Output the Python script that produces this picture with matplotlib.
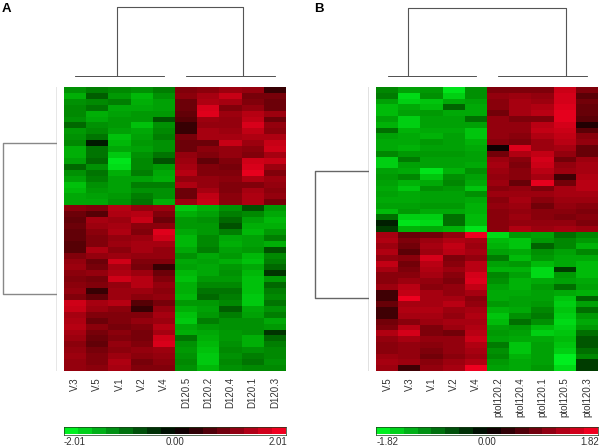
import numpy as np
import matplotlib
matplotlib.use('Agg')
import matplotlib.pyplot as plt
from matplotlib.colors import LinearSegmentedColormap

plt.rcParams['font.family'] = ['Liberation Sans', 'DejaVu Sans']

# Panel A, one list per sample, rows top to bottom
a_labels = ['V.3', 'V.5', 'V.1', 'V.2', 'V.4', 'D120.5', 'D120.2', 'D120.4', 'D120.1', 'D120.3']
a_v3 = [-0.9,-1.3,-0.9,-0.8,-0.8,-0.9,-0.5,-1.0,-0.9,-0.8,-1.3,-1.3,-1.1,-0.5,-0.9,-1.1,-1.5,-1.4,-1.2,-1.2,
        0.8,0.5,0.4,0.5,0.4,0.4,0.3,0.3,0.7,0.9,1.0,0.8,0.7,0.8,0.9,0.7,1.6,1.5,1.1,1.2,1.3,1.1,1.0,0.8,0.9,1.0,0.9,0.9]
a_v5 = [-0.7,-0.4,-0.8,-0.6,-1.3,-1.2,-0.9,-0.8,-0.6,-0.1,-0.6,-0.6,-0.5,-0.9,-0.6,-0.7,-0.9,-1.0,-1.1,-1.2,
        0.7,0.3,1.1,1.0,0.8,0.7,0.7,1.2,0.9,0.5,0.6,0.9,0.6,0.7,0.2,0.4,1.1,1.0,0.7,0.5,0.8,0.6,0.5,0.4,0.6,0.7,0.7,0.8]
a_v1 = [-0.8,-1.0,-0.7,-1.2,-1.1,-1.0,-1.0,-1.1,-1.5,-1.4,-1.2,-1.6,-1.9,-1.8,-1.3,-1.1,-1.1,-1.1,-1.0,-0.9,
        1.3,1.2,1.0,1.1,1.2,0.9,1.0,0.8,1.0,1.6,1.1,1.2,1.6,0.9,1.0,1.0,1.3,0.8,0.7,0.7,0.6,0.8,0.7,0.9,0.8,1.0,1.2,1.1]
a_v2 = [-0.9,-1.4,-1.3,-1.2,-1.0,-1.0,-1.5,-1.2,-1.1,-1.0,-1.1,-0.9,-0.8,-0.8,-0.7,-1.1,-0.7,-0.9,-0.7,-0.6,
        0.9,1.3,1.5,0.8,0.7,1.0,1.1,1.1,0.9,0.7,0.6,1.0,1.3,1.3,1.0,0.8,0.3,0.2,0.7,0.9,0.7,0.6,0.6,0.7,0.9,0.8,0.6,0.7]
a_v4 = [-0.7,-0.9,-1.1,-1.1,-1.0,-0.3,-0.9,-0.8,-0.7,-0.9,-0.9,-0.6,-0.3,-1.0,-1.2,-1.3,-0.7,-0.9,-0.9,-1.3,
        1.0,0.7,0.5,0.8,1.8,1.6,1.1,0.9,0.9,0.7,0.2,0.5,0.7,0.9,0.8,0.9,0.6,0.9,1.1,1.0,1.3,1.1,1.6,1.7,1.0,0.9,0.8,0.7]
a_d5 = [0.7,0.8,0.5,0.5,0.4,0.3,0.2,0.2,0.6,0.5,0.5,0.9,1.0,1.1,1.3,0.9,1.2,0.5,0.5,1.0,
        -1.6,-1.3,-1.0,-1.0,-1.2,-1.4,-1.4,-1.2,-0.9,-1.2,-1.1,-1.4,-1.5,-1.3,-1.3,-1.4,-1.0,-1.3,-1.5,-1.6,-1.2,-1.3,-0.6,-0.9,-1.0,-0.9,-0.8,-0.9]
a_d2 = [0.8,1.1,1.2,1.7,1.8,1.0,0.9,1.1,1.1,0.5,0.8,0.7,0.4,0.7,0.7,0.9,0.9,1.1,1.4,1.5,
        -1.3,-1.1,-0.9,-1.0,-1.0,-0.8,-0.8,-0.7,-1.2,-1.1,-1.2,-1.2,-1.0,-0.8,-0.6,-0.5,-1.0,-1.1,-1.0,-0.7,-1.0,-1.2,-1.3,-1.4,-1.5,-1.6,-1.6,-1.4]
a_d4 = [1.0,1.5,1.1,0.7,1.0,0.9,0.9,1.0,1.1,1.5,0.9,0.9,0.7,0.6,0.7,0.8,0.7,0.7,0.8,0.8,
        -0.9,-0.7,-0.5,-0.3,-0.7,-1.2,-1.3,-1.1,-1.0,-1.3,-1.0,-0.9,-1.0,-0.8,-0.6,-0.7,-0.8,-0.4,-0.7,-0.9,-0.9,-1.0,-1.0,-0.9,-0.8,-0.9,-0.8,-0.9]
a_d1 = [0.9,0.6,0.7,0.9,1.3,1.4,1.7,1.4,1.2,1.0,0.8,0.7,1.6,1.7,1.9,1.2,0.7,1.1,1.2,1.2,
        -0.3,-0.8,-1.1,-1.3,-1.4,-1.1,-1.1,-1.0,-1.4,-1.5,-1.2,-1.4,-1.5,-1.5,-1.5,-1.6,-1.6,-1.2,-1.1,-0.9,-0.9,-0.9,-1.3,-1.3,-0.9,-0.7,-0.6,-0.8]
a_d3 = [0.2,0.6,0.5,0.5,1.0,0.5,0.9,0.8,1.2,1.5,1.6,1.1,1.5,1.0,0.7,1.0,0.9,0.8,0.9,0.6,
        -1.0,-1.2,-1.4,-1.3,-1.0,-0.7,-1.3,-0.3,-0.8,-0.7,-0.5,-0.2,-1.0,-0.5,-0.7,-0.8,-0.6,-0.9,-0.7,-1.2,-1.0,-0.2,-0.5,-0.7,-0.8,-0.8,-0.9,-0.8]

# Panel B
b_labels = ['V.5', 'V.3', 'V.1', 'V.2', 'V.4', 'ptol120.2', 'ptol120.4', 'ptol120.1', 'ptol120.5', 'ptol120.3']
b_v5 = [-0.7,-0.6,-1.0,-1.3,-1.3,-1.0,-1.2,-0.5,-1.0,-1.1,-1.1,-0.7,-1.5,-1.5,-1.0,-0.9,-1.0,-1.1,-1.0,-1.1,-1.0,-1.3,-0.5,-0.1,-0.2,
        1.0,1.1,0.9,1.1,0.8,1.3,1.0,0.7,0.7,0.9,0.2,0.2,0.4,0.2,0.2,0.5,0.6,1.1,0.8,0.7,0.7,0.9,1.0,0.9]
b_v3 = [-1.0,-1.6,-1.5,-1.1,-1.0,-1.5,-1.5,-1.2,-1.1,-1.1,-1.2,-0.9,-0.6,-1.0,-1.1,-0.7,-1.2,-1.4,-1.1,-1.1,-1.0,-0.9,-1.5,-1.7,-1.2,
        0.4,0.6,0.5,0.3,0.7,0.5,0.6,0.7,0.9,1.2,1.3,1.8,1.0,1.1,1.0,0.7,1.2,1.5,1.0,0.8,0.8,0.8,0.9,0.2]
b_v1 = [-0.9,-0.8,-1.4,-1.3,-0.9,-1.0,-1.0,-1.1,-1.2,-0.9,-1.0,-0.9,-1.0,-1.0,-1.7,-1.4,-1.1,-0.8,-1.0,-1.0,-0.9,-1.1,-1.5,-1.6,-1.1,
        0.5,0.9,1.0,0.9,1.5,1.2,1.1,1.0,0.8,0.7,1.0,1.0,1.0,1.1,1.0,0.9,0.6,0.6,0.8,0.7,0.6,0.5,0.7,0.8]
b_v2 = [-1.7,-1.5,-1.1,-0.4,-1.1,-1.0,-1.0,-1.1,-1.0,-1.0,-1.0,-0.9,-1.0,-1.0,-1.2,-0.8,-0.7,-0.9,-1.0,-1.0,-0.9,-1.1,-0.5,-0.5,-1.2,
        0.8,1.1,1.3,1.2,0.6,0.7,0.9,0.7,0.6,0.8,0.8,1.0,1.2,0.9,0.8,1.0,0.9,0.5,0.8,0.8,0.8,0.7,0.9,1.0]
b_v4 = [-0.8,-0.8,-1.0,-1.1,-1.1,-0.5,-1.0,-1.4,-1.4,-1.2,-1.1,-1.0,-1.0,-1.1,-0.8,-1.0,-1.1,-1.4,-0.8,-1.1,-1.2,-1.2,-1.3,-1.3,-1.7,
        1.8,1.0,0.9,1.0,0.8,1.2,1.2,1.5,1.6,1.3,1.0,0.7,0.8,1.0,1.1,1.0,1.1,1.2,1.4,1.1,1.0,0.9,1.1,1.8]
b_p2 = [0.6,0.8,0.7,0.7,0.5,0.8,0.8,0.8,0.8,0.7,0.05,0.5,0.9,1.0,0.9,0.8,0.9,0.7,0.9,0.7,0.8,0.7,0.7,0.7,0.7,
        -1.6,-1.3,-1.2,-1.0,-0.6,-1.0,-1.2,-0.7,-0.8,-1.0,-1.1,-1.1,-0.9,-1.2,-1.4,-1.3,-1.0,-0.9,-1.0,-0.6,-0.8,-0.7,-0.9,-1.0]
b_p4 = [0.6,0.9,1.0,1.0,1.0,0.6,0.8,0.8,0.7,0.6,1.6,1.1,0.7,0.6,0.7,0.7,0.4,0.8,0.9,1.0,0.9,0.8,0.9,0.8,1.1,
        -0.9,-1.4,-1.4,-1.1,-1.3,-0.9,-1.2,-1.0,-1.2,-1.2,-1.1,-1.0,-1.0,-1.1,-0.8,-0.5,-0.9,-1.0,-1.1,-1.4,-1.4,-1.2,-1.1,-1.1]
b_p1 = [0.6,0.8,0.9,1.1,1.2,0.6,1.2,1.3,1.1,0.9,0.9,1.3,1.5,1.4,1.2,1.0,1.7,0.6,0.9,0.7,0.5,0.7,0.7,0.8,0.9,
        -1.0,-0.9,-0.4,-0.8,-0.9,-1.3,-1.6,-1.6,-1.1,-0.9,-1.0,-1.0,-0.9,-0.7,-0.6,-0.8,-1.3,-1.5,-1.1,-1.0,-1.0,-1.0,-1.0,-0.9]
b_p5 = [1.4,1.5,1.5,1.6,1.7,1.7,1.5,1.4,1.3,1.2,1.0,0.8,0.5,0.8,0.9,0.2,0.5,1.0,1.0,0.9,0.8,0.7,0.6,0.8,1.0,
        -0.5,-0.7,-0.7,-1.0,-1.1,-1.1,-0.2,-0.9,-1.0,-0.5,-1.1,-1.4,-1.5,-1.4,-1.5,-1.6,-1.5,-1.4,-1.3,-1.4,-1.5,-1.8,-1.8,-1.6]
b_p3 = [0.6,0.3,0.5,0.4,0.4,0.3,0.1,0.3,0.7,0.8,0.4,0.4,0.9,1.0,1.0,1.1,1.2,1.2,1.0,0.9,0.7,0.6,0.7,0.6,0.9,
        -0.7,-0.9,-1.2,-0.7,-1.1,-1.3,-1.3,-1.3,-1.1,-1.0,-1.2,-0.4,-1.0,-0.5,-0.9,-1.1,-0.9,-0.5,-0.3,-0.3,-0.5,-0.7,-0.2,-0.2]

# Colour scale limits
a_limit = 2.01
b_limit = 1.82

# Dendrogram merge heights (0 to 1), merge columns and row cluster centres (in rows)
a_top_merge = 0.99
b_top_merge = 0.985
sub_merge = 0.015
a_merge_cols = [1.9, 7.55]
b_merge_cols = [0.92, 8.05]
a_row_centres = [9.0, 34.5]
b_row_centres = [14.0, 35.9]

W, H = 600, 446
# colourbar ramp is stepped, the cells use a curve that lifts the mid tones
bar_cmap = LinearSegmentedColormap.from_list('gbr', ['#00f020', '#000000', '#f00020'], N=16)
cell_cmap = LinearSegmentedColormap.from_list('gbr_cells', [
    (0.0, '#00f020'), (0.15, '#00b808'), (0.3, '#008a02'), (0.42, '#005500'),
    (0.5, '#000000'),
    (0.58, '#5a0006'), (0.7, '#8c000c'), (0.85, '#c00014'), (1.0, '#f00020')])


def pixel_axes(fig, left, top, right, bottom):
    ax = fig.add_axes([left / W, 1 - bottom / H, (right - left) / W, (bottom - top) / H])
    return ax


def draw_heatmap(fig, box, columns, labels, limit):
    ax = pixel_axes(fig, *box)
    data = np.array(columns).T
    ax.imshow(data, cmap=cell_cmap, vmin=-limit, vmax=limit, aspect='auto', interpolation='nearest')
    ax.set_xticks(range(len(labels)))
    ax.set_xticklabels(labels, rotation=90, fontsize=7, color='#333333')
    ax.tick_params(axis='x', length=0, pad=4.5)
    ax.set_yticks([])
    for s in ax.spines.values():
        s.set_visible(False)
    return data.shape[0]


def draw_top_tree(fig, box, top_merge, merge_cols):
    ax = pixel_axes(fig, *box)
    ax.set_xlim(-0.5, 9.5)
    ax.set_ylim(0, 1)
    ax.axis('off')
    for first in (0, 5):
        ax.plot([first, first + 4], [sub_merge, sub_merge], color='#333333', lw=0.6)
    ax.plot([merge_cols[0], merge_cols[0], merge_cols[1], merge_cols[1]],
            [sub_merge, top_merge, top_merge, sub_merge], color='#555555', lw=0.8)


def draw_left_tree(fig, box, n_rows, row_centres, line_color):
    ax = pixel_axes(fig, *box)
    ax.set_xlim(1, 0)
    ax.set_ylim(n_rows - 0.5, -0.5)
    ax.axis('off')
    ax.plot([0, 0], [-0.5, n_rows - 0.5], color=line_color, lw=1.0)
    ax.plot([0, 0.98, 0.98, 0],
            [row_centres[0], row_centres[0], row_centres[1], row_centres[1]],
            color=line_color, lw=1.0)


def draw_colorbar(fig, box, limit):
    ax = pixel_axes(fig, *box)
    ramp = np.linspace(-limit, limit, 16).reshape(1, -1)
    ax.imshow(ramp, cmap=bar_cmap, vmin=-limit, vmax=limit, aspect='auto', interpolation='nearest')
    ax.set_xticks([])
    ax.set_yticks([])
    for s in ax.spines.values():
        s.set_color('#1a3a1a')
        s.set_linewidth(0.5)
    style = dict(transform=ax.transAxes, fontsize=7, color='#333333', va='top')
    ax.text(0, -0.32, f'{-limit:.2f}', ha='left', **style)
    ax.text(0.5, -0.32, '0.00', ha='center', **style)
    ax.text(1.005, -0.32, f'{limit:.2f}', ha='right', **style)


fig = plt.figure(figsize=(W / 100, H / 100), dpi=100)

a_columns = [a_v3, a_v5, a_v1, a_v2, a_v4, a_d5, a_d2, a_d4, a_d1, a_d3]
b_columns = [b_v5, b_v3, b_v1, b_v2, b_v4, b_p2, b_p4, b_p1, b_p5, b_p3]

a_rows = draw_heatmap(fig, (64, 87, 286, 371), a_columns, a_labels, a_limit)
b_rows = draw_heatmap(fig, (376.5, 87, 598, 371), b_columns, b_labels, b_limit)

draw_top_tree(fig, (64, 6, 286, 77), a_top_merge, a_merge_cols)
draw_top_tree(fig, (376.5, 6.5, 598, 77), b_top_merge, b_merge_cols)

draw_left_tree(fig, (2, 87, 57.5, 371), a_rows, a_row_centres, '#888888')
draw_left_tree(fig, (314, 87, 368.5, 371), b_rows, b_row_centres, '#666666')

draw_colorbar(fig, (64, 427, 286, 434.5), a_limit)
draw_colorbar(fig, (376.5, 426.5, 598, 434.5), b_limit)

fig.text(2 / W, 1 - 12 / H, 'A', fontsize=9.5, fontweight='bold', va='baseline')
fig.text(314 / W, 1 - 12 / H, 'B', fontsize=9.5, fontweight='bold', va='baseline')

fig.savefig('out.png', dpi=100)
